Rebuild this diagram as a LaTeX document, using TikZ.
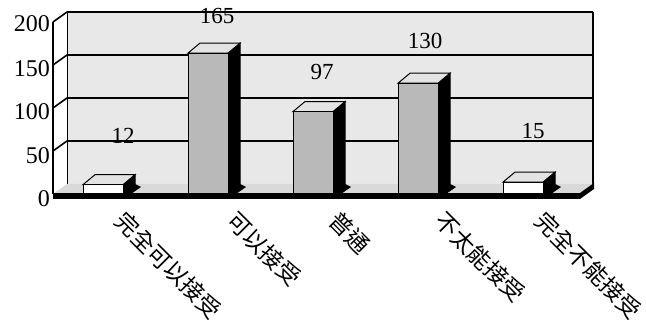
\documentclass[tikz,border=0pt]{standalone}
\usepackage{fontspec}
\setmainfont{Liberation Serif}
\newfontfamily\cjk{Noto Sans CJK TC}
\usetikzlibrary{backgrounds}

\tikzset{
    wallband/.style={fill=gray!18},
    gridline/.style={line width=1.6pt, line join=round},
    barfront/.style={fill=gray!55, draw=black, line width=1pt},
    bartop/.style={fill=gray!22, draw=black, line width=1pt},
    barside/.style={fill=black, draw=black, line width=1pt},
    vallabel/.style={font=\fontsize{23}{23}\selectfont, inner sep=0pt},
    ticklabel/.style={font=\fontsize{24}{24}\selectfont, inner sep=0pt, anchor=east},
    catlabel/.style={font=\cjk\fontsize{23}{23}\selectfont, inner sep=0pt,
                     text height=0.88em, text depth=0.12em, rotate=-45, anchor=west}
}

\begin{document}
\begin{tikzpicture}[x=1pt,y=-1pt]
    \useasboundingbox (0,0) rectangle (646,336);

    \begin{scope}  % the five bars
        \foreach \v/\name [count=\i] in {12/full,165/ok,97/neutral,130/hardly,15/never} {
            \pgfmathsetmacro{\L}{83+105*(\i-1)}
            \pgfmathsetmacro{\R}{\L+40}
            \pgfmathsetmacro{\T}{195-0.86*\v}
            \fill[black] (\R,194) -- (\R+12,184) -- (\R+18,187) -- (\R+8,194) -- cycle;  % shadow
            \draw[barside] (\R,\T) -- (\R+12,\T-10) -- (\R+12,184) -- (\R,194) -- cycle;
            \draw[bartop] (\L,\T) -- (\L+12,\T-10) -- (\R+12,\T-10) -- (\R,\T) -- cycle;
            \ifnum\v<20
                \draw[barfront, fill=white] (\L,\T) rectangle (\R,194);
            \else
                \draw[barfront] (\L,\T) rectangle (\R,194);
            \fi
        }
    \end{scope}

    \begin{pgfonlayer}{background}
    \fill[wallband] (67,12) rectangle (593,184);                     % back wall
    \fill[white] (53,22) -- (67,12) -- (67,184) -- (53,194) -- cycle; % side wall
    \foreach \y in {22,65,108,151}
        \draw[gridline] (53,\y) -- (67,\y-10) -- (593,\y-10);
    \draw[gridline] (53,22) -- (53,194);
    \draw[line width=1pt] (67,12) -- (67,184);
    \draw[gridline] (593,12) -- (593,184);
    % floor slab
    \fill[gray!30] (53,194) -- (580,194) -- (594,184) -- (67,184) -- cycle;
    \fill[black] (53,193) rectangle (580,199);
    \fill[black] (580,193) -- (594,183) -- (594,189) -- (580,199) -- cycle;
    \end{pgfonlayer}

    % axis values
    \node[ticklabel] (t200) at (50,24) {200};
    \node[ticklabel] (t150) at (50,69) {150};
    \node[ticklabel] (t100) at (50,112) {100};
    \node[ticklabel] (t50) at (50,156) {50};
    \node[ticklabel] (t0) at (50,199) {0};

    % bar values
    \node[vallabel] (vfull) at (123,136) {12};
    \node[vallabel] (vok) at (217,16) {165};
    \node[vallabel] (vneutral) at (322,72) {97};
    \node[vallabel] (vhardly) at (425,41) {130};
    \node[vallabel] (vnever) at (533,131) {15};

    % categories
    \node[catlabel] (cfull) at (116,220) {完全可以接受};
    \node[catlabel] (cok) at (228,220) {可以接受};
    \node[catlabel] (cneutral) at (330,220) {普通};
    \node[catlabel] (chardly) at (436,220) {不太能接受};
    \node[catlabel] (cnever) at (536,220) {完全不能接受};
\end{tikzpicture}
\end{document}
